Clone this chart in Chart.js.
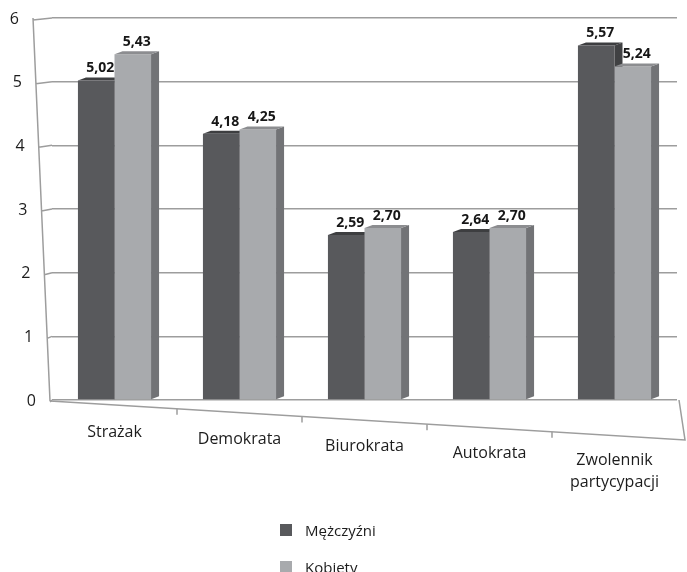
<!DOCTYPE html>
<html lang="pl">
<head>
<meta charset="utf-8">
<title>Mężczyźni i kobiety – średnie oceny</title>
<script src="https://cdn.jsdelivr.net/npm/chart.js@4.4.1/dist/chart.umd.min.js"></script>
<style>
  html, body { margin: 0; padding: 0; background: #ffffff; }
  #wrap { position: relative; width: 687px; height: 572px; overflow: hidden; }
  #chart { position: absolute; left: 0; top: 0; }
  #legend { position: absolute; left: 280px; top: 524px; font-family: 'Open Sans', sans-serif; font-size: 15px; color: #1c1c1c; }
  .item { display: flex; align-items: center; height: 12px; margin-bottom: 25px; white-space: nowrap; }
  .swatch { width: 12px; height: 12px; margin-right: 13px; flex: none; }
</style>
</head>
<body>
<div id="wrap">
  <canvas id="chart" width="687" height="572"></canvas>
  <div id="legend"></div>
</div>
<script>
// Categories, series and axis ticks
const categories = ['Strażak', 'Demokrata', 'Biurokrata', 'Autokrata', ['Zwolennik', 'partycypacji']];
const seriesNames = ['Mężczyźni', 'Kobiety'];
const menValues = [5.02, 4.18, 2.59, 2.64, 5.57];
const womenValues = [5.43, 4.25, 2.70, 2.70, 5.24];
const yTickValues = [0, 1, 2, 3, 4, 5, 6];

// Face colours for the pseudo-3D columns
const FRONT = ['#58595c', '#a8aaad'];
const SIDE = ['#404143', '#727376'];
const TOP = ['#3d3e40', '#8c8d90'];
const DX = 8, DY = 3;          // depth offset of column side/top faces
const GRID = '#9d9d9d';
const TEXT = '#1c1c1c';

function fmt(v) { return v.toFixed(2).replace('.', ','); }

// x position of the slanted front edge of the left wall at height y
function wallX(area, y) {
  const t = (y - area.top) / (area.bottom - area.top);
  return 33 + t * 17;
}

function drawSide(ctx, b, color) {
  const x1 = b.x + b.width / 2;
  ctx.fillStyle = color;
  ctx.beginPath();
  ctx.moveTo(x1, b.y);
  ctx.lineTo(x1 + DX, b.y - DY);
  ctx.lineTo(x1 + DX, b.base - DY);
  ctx.lineTo(x1, b.base);
  ctx.closePath();
  ctx.fill();
}
function drawTop(ctx, b, color) {
  const x0 = b.x - b.width / 2, x1 = b.x + b.width / 2;
  ctx.fillStyle = color;
  ctx.beginPath();
  ctx.moveTo(x0, b.y);
  ctx.lineTo(x0 + DX, b.y - DY);
  ctx.lineTo(x1 + DX, b.y - DY);
  ctx.lineTo(x1, b.y);
  ctx.closePath();
  ctx.fill();
}
function barsOf(chart, i) {
  return chart.getDatasetMeta(i).data.map(el => el.getProps(['x', 'y', 'base', 'width'], true));
}

const perspectivePlugin = {
  id: 'perspective',
  beforeDatasetsDraw(chart) {
    const ctx = chart.ctx, area = chart.chartArea, ys = chart.scales.y, xs = chart.scales.x;
    ctx.save();
    ctx.strokeStyle = GRID;
    ctx.lineWidth = 1.5;
    // left wall: front edge and short slanted tick links
    ctx.beginPath();
    ctx.moveTo(wallX(area, area.top), area.top);
    ctx.lineTo(wallX(area, area.bottom), area.bottom + 1);
    yTickValues.forEach(v => {
      const y = ys.getPixelForValue(v);
      ctx.moveTo(wallX(area, y), y + 2);
      ctx.lineTo(area.left, y);
    });
    ctx.stroke();
    // floor: front edge sloping down to the right, right edge
    const fx0 = wallX(area, area.bottom), fy0 = area.bottom + 1;
    const fx1 = 685, fy1 = area.bottom + 40;
    const slope = (fy1 - fy0) / (fx1 - fx0);
    ctx.beginPath();
    ctx.moveTo(fx0, fy0);
    ctx.lineTo(fx1, fy1);
    ctx.lineTo(area.right + 2, area.bottom);
    ctx.stroke();
    // category boundary ticks on the floor edge
    ctx.beginPath();
    for (let i = 1; i < categories.length; i++) {
      const x = (xs.getPixelForValue(i - 1) + xs.getPixelForValue(i)) / 2;
      const y = fy0 + (x - fx0) * slope;
      ctx.moveTo(x, y);
      ctx.lineTo(x, y + 6);
    }
    ctx.stroke();
    // y tick labels along the slanted wall
    ctx.fillStyle = TEXT;
    ctx.font = '16px "Open Sans"';
    ctx.textAlign = 'right';
    ctx.textBaseline = 'middle';
    yTickValues.forEach(v => {
      const y = ys.getPixelForValue(v);
      ctx.fillText(String(v), wallX(area, y) - 14, y + 1);
    });
    // category labels, following the floor slope
    ctx.font = '16px "Open Sans"';
    ctx.textAlign = 'center';
    ctx.textBaseline = 'middle';
    categories.forEach((c, i) => {
      const x = xs.getPixelForValue(i);
      const y = 432 + i * 7;
      const lines = Array.isArray(c) ? c : [c];
      lines.forEach((t, k) => ctx.fillText(t, x, y + k * 22));
    });
    ctx.restore();
  },
  beforeDatasetDraw(chart, args) {
    if (args.index !== 1) return;
    const ctx = chart.ctx;
    ctx.save();
    barsOf(chart, 0).forEach(b => { drawSide(ctx, b, SIDE[0]); drawTop(ctx, b, TOP[0]); });
    ctx.restore();
  },
  afterDatasetsDraw(chart) {
    const ctx = chart.ctx;
    ctx.save();
    barsOf(chart, 1).forEach(b => { drawSide(ctx, b, SIDE[1]); drawTop(ctx, b, TOP[1]); });
    // value labels above each column
    ctx.fillStyle = '#161616';
    ctx.font = 'bold 14px "Open Sans"';
    ctx.textAlign = 'center';
    ctx.textBaseline = 'alphabetic';
    [menValues, womenValues].forEach((vals, d) => {
      barsOf(chart, d).forEach((b, i) => {
        ctx.fillText(fmt(vals[i]), b.x + DX / 2, b.y - 8);
      });
    });
    ctx.restore();
  }
};

Chart.defaults.font.family = '"Open Sans", sans-serif';
Chart.defaults.color = TEXT;

new Chart(document.getElementById('chart'), {
  type: 'bar',
  data: {
    labels: categories,
    datasets: [
      { label: seriesNames[0], data: menValues, backgroundColor: FRONT[0] },
      { label: seriesNames[1], data: womenValues, backgroundColor: FRONT[1] }
    ]
  },
  options: {
    responsive: false,
    animation: false,
    layout: { padding: { left: 52, right: 10, top: 18, bottom: 172 } },
    datasets: { bar: { categoryPercentage: 0.585, barPercentage: 1, borderWidth: 0 } },
    scales: {
      x: { display: false },
      y: {
        min: 0, max: 6,
        afterBuildTicks: s => { s.ticks = yTickValues.map(v => ({ value: v })); },
        ticks: { display: false },
        border: { display: false },
        grid: { color: GRID, lineWidth: 1.5, drawTicks: false }
      }
    },
    plugins: { legend: { display: false }, tooltip: { enabled: false } }
  },
  plugins: [perspectivePlugin]
});

// legend built from the series names and colours
const legend = document.getElementById('legend');
seriesNames.forEach((name, i) => {
  const row = document.createElement('div');
  row.className = 'item';
  const sw = document.createElement('span');
  sw.className = 'swatch';
  sw.style.background = FRONT[i];
  const tx = document.createElement('span');
  tx.textContent = name;
  row.appendChild(sw);
  row.appendChild(tx);
  legend.appendChild(row);
});
</script>
</body>
</html>
